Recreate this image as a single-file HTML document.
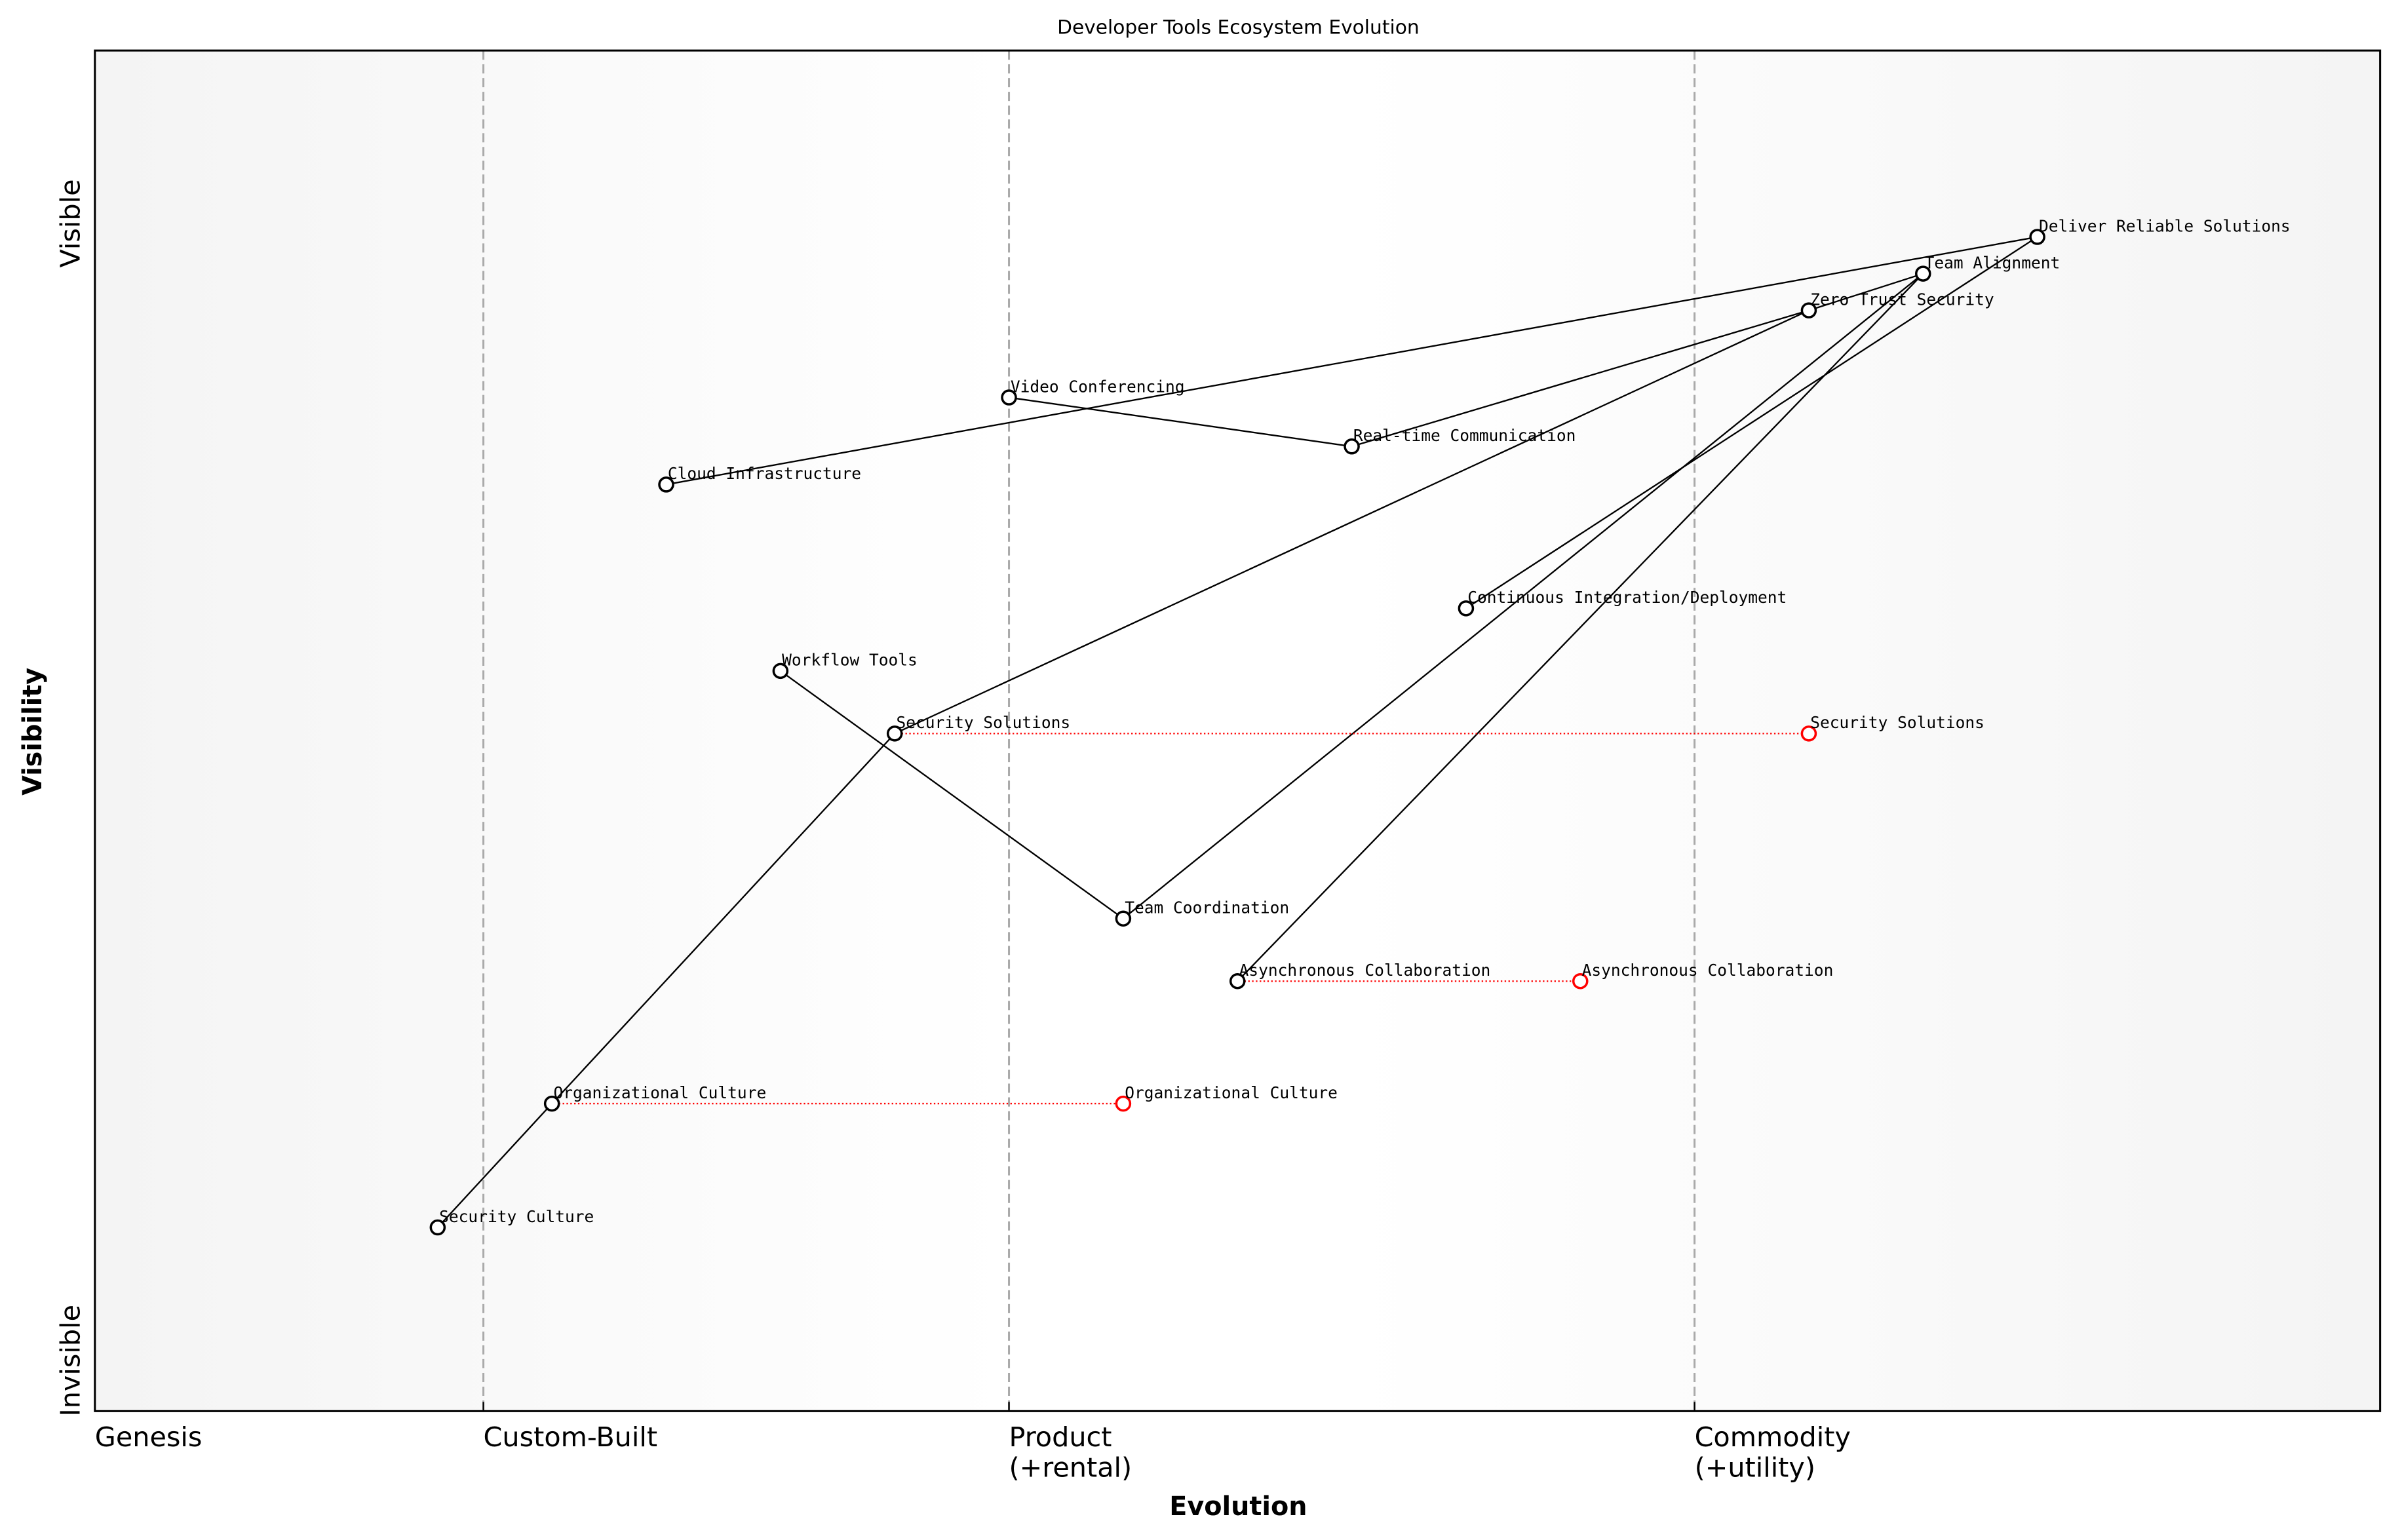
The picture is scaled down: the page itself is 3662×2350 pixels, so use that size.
<!DOCTYPE html>
<html><head><meta charset="utf-8"><title>Developer Tools Ecosystem Evolution</title>
<style>html,body{margin:0;padding:0;background:#fff;}svg{display:block;}</style></head>
<body>
<svg id="chart" xmlns="http://www.w3.org/2000/svg" width="3662" height="2350" viewBox="0 0 1568 1006.2">
<defs>
<linearGradient id="bg" x1="0" x2="1" y1="0" y2="0">
<stop offset="0" stop-color="#f4f4f4"/><stop offset="0.4" stop-color="#ffffff"/><stop offset="0.55" stop-color="#ffffff"/><stop offset="1" stop-color="#f4f4f4"/>
</linearGradient>
</defs>
<rect x="62" y="33" width="1493" height="889" fill="url(#bg)"/>
<g id="grid"></g>
<g id="links"></g>
<g id="nodes"></g>
<rect x="62" y="33" width="1493" height="889" fill="none" stroke="#000" stroke-width="1.3"/>
<text x="809" y="22" text-anchor="middle" font-family="DejaVu Sans, Liberation Sans, sans-serif" font-size="12.7">Developer Tools Ecosystem Evolution</text>
<text x="809" y="990" text-anchor="middle" font-family="DejaVu Sans, Liberation Sans, sans-serif" font-size="17" font-weight="bold">Evolution</text>
<text transform="translate(27,478) rotate(-90)" text-anchor="middle" font-family="DejaVu Sans, Liberation Sans, sans-serif" font-size="17" font-weight="bold">Visibility</text>
<text transform="translate(52,146) rotate(-90)" text-anchor="middle" font-family="DejaVu Sans, Liberation Sans, sans-serif" font-size="17.7">Visible</text>
<text transform="translate(52,889) rotate(-90)" text-anchor="middle" font-family="DejaVu Sans, Liberation Sans, sans-serif" font-size="17.7">Invisible</text>
<g id="xticks"></g>
</svg>
<script>
const stageNames = ["Genesis", "Custom-Built", "Product", "Commodity"];
const stageSub = ["", "", "(+rental)", "(+utility)"];
const stagePos = [0, 0.17, 0.40, 0.70];
const nodeNames = ["Deliver Reliable Solutions","Team Alignment","Zero Trust Security","Video Conferencing","Real-time Communication","Cloud Infrastructure","Continuous Integration/Deployment","Workflow Tools","Security Solutions","Team Coordination","Asynchronous Collaboration","Organizational Culture","Security Culture"];
const nodeEvo = [0.85,0.80,0.75,0.40,0.55,0.25,0.60,0.30,0.35,0.45,0.50,0.20,0.15];
const nodeVis = [0.863,0.836,0.809,0.745,0.709,0.681,0.590,0.544,0.498,0.362,0.316,0.226,0.135];
const linkFrom = [5,3,4,2,8,6,9,10,7,12,11];
const linkTo = [0,4,2,1,2,0,1,1,9,11,8];
const moveFrom = [8,10,11];
const moveTo = [0.75,0.65,0.45];

const L=62,R=1555,T=33,B=922;
const xs=v=>L+(R-L)*v, ys=v=>B-(B-T)*v;
const NS="http://www.w3.org/2000/svg";
function mk(tag,attrs,parent){const e=document.createElementNS(NS,tag);for(const k in attrs)e.setAttribute(k,attrs[k]);parent.appendChild(e);return e;}
const grid=document.getElementById('grid'),links=document.getElementById('links'),nodes=document.getElementById('nodes'),xt=document.getElementById('xticks');
stagePos.forEach((p,i)=>{
  if(p>0){const ln=mk('line',{x1:xs(p),x2:xs(p),y1:T,y2:B,stroke:'#aaaaaa','stroke-width':1.3,'stroke-dasharray':'6,3'},grid);
  
  
  const tk=mk('line',{x1:xs(p),x2:xs(p),y1:B,y2:B-6,stroke:'#000','stroke-width':1},xt);
  
  }
  const t=mk('text',{x:xs(p),y:945,'font-family':'DejaVu Sans, Liberation Sans, sans-serif','font-size':17.7},xt);
  
  
  t.textContent=stageNames[i];
  if(stageSub[i]){const t2=mk('text',{x:xs(p),y:965,'font-family':'DejaVu Sans, Liberation Sans, sans-serif','font-size':17.7},xt);
  
  
  t2.textContent=stageSub[i];}
});
linkFrom.forEach((f,i)=>{const t=linkTo[i];
  const l=mk('line',{x1:xs(nodeEvo[f]),y1:ys(nodeVis[f]),x2:xs(nodeEvo[t]),y2:ys(nodeVis[t]),stroke:'#000','stroke-width':1},links);
  
  
});
moveFrom.forEach((f,i)=>{
  const l=mk('line',{x1:xs(nodeEvo[f])+4.5,y1:ys(nodeVis[f]),x2:xs(moveTo[i])-4.5,y2:ys(nodeVis[f]),stroke:'#ff0000','stroke-width':1,'stroke-dasharray':'1,1.5'},links);
  
  
  const c=mk('circle',{cx:xs(moveTo[i]),cy:ys(nodeVis[f]),r:4.5,fill:'#fff',stroke:'#ff0000','stroke-width':1.5},nodes);
  
  
  const t=mk('text',{x:xs(moveTo[i])+1,y:ys(nodeVis[f])-3.5,'font-family':'DejaVu Sans Mono, Liberation Mono, monospace','font-size':10.5},nodes);
  
  
  t.textContent=nodeNames[f];
});
nodeNames.forEach((n,i)=>{
  const c=mk('circle',{cx:xs(nodeEvo[i]),cy:ys(nodeVis[i]),r:4.5,fill:'#fff',stroke:'#000','stroke-width':1.5},nodes);
  
  
  const t=mk('text',{x:xs(nodeEvo[i])+1,y:ys(nodeVis[i])-3.5,'font-family':'DejaVu Sans Mono, Liberation Mono, monospace','font-size':10.5},nodes);
  
  
  t.textContent=n;
});
</script>
</body></html>
